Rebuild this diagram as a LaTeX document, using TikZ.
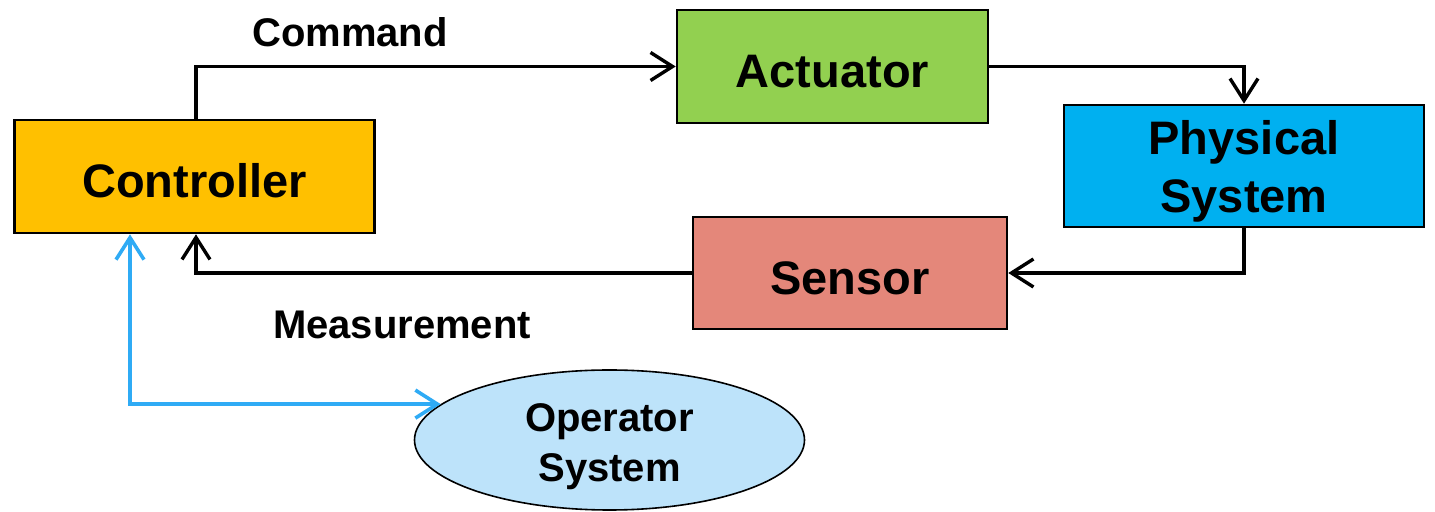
\documentclass[tikz,border=0pt]{standalone}
\usepackage{fontspec}
\setmainfont{Liberation Sans}
\usetikzlibrary{arrows.meta,shapes.geometric}

\definecolor{ctrlfill}{HTML}{FFC000}
\definecolor{actfill}{HTML}{92D050}
\definecolor{physfill}{HTML}{00B0F0}
\definecolor{sensfill}{HTML}{E4877A}
\definecolor{opfill}{HTML}{BDE3FA}
\definecolor{linkblue}{HTML}{2FABF5}

\tikzset{
  block/.style={draw=black, line width=1.3pt, rectangle, inner sep=0pt,
    font=\fontsize{23.5}{29}\selectfont\bfseries, align=center},
  oneline/.style={text height=21.5pt, text depth=0pt},
  flow/.style={draw=black, line width=1.7pt,
    -{Straight Barb[length=11pt,width=14pt,line width=1.7pt]}},
  oplink/.style={draw=linkblue, line width=1.8pt,
    {Straight Barb[length=11pt,width=14pt,line width=1.8pt]}-{Straight Barb[length=11pt,width=14pt,line width=1.8pt]}},
  sig/.style={font=\fontsize{20}{24}\selectfont\bfseries},
}

\begin{document}
\begin{tikzpicture}[x=0.5pt,y=-0.5pt]
  \useasboundingbox (0,0) rectangle (1435,512);

  % blocks of the control loop
  \node[block, oneline, fill=ctrlfill, minimum width=180pt, minimum height=56.5pt]
    (ctrl) at (194.5,176.5) {Controller};
  \node[block, oneline, fill=actfill, minimum width=155.5pt, minimum height=56.5pt]
    (act) at (832.5,66.5) {Actuator};
  \node[block, fill=physfill, minimum width=180pt, minimum height=61pt]
    (phys) at (1244,166) {\rule{0pt}{22pt}Physical\\System};
  \node[block, oneline, fill=sensfill, minimum width=157pt, minimum height=56pt]
    (sens) at (850,273) {Sensor};

  % operator system and its label
  \node[ellipse, draw=black, line width=0.8pt, fill=opfill,
    minimum width=195pt, minimum height=70pt, inner sep=0pt]
    (op) at (609.5,440) {};
  \node[align=center, font=\fontsize{20}{25}\selectfont\bfseries]
    (optext) at (609.5,447) {Operator\\System};

  % signal labels
  \node[sig] (cmd) at (350,32) {Command};
  \node[sig] (meas) at (402,325) {Measurement};

  % loop connectors
  \draw[flow] (196,0 |- ctrl.north) |- (act.west);
  \draw[flow] (act.east) -| (phys.north);
  \draw[flow] (phys.south) |- (sens.east);
  \draw[flow] (sens.west) -| (196,0 |- ctrl.south);

  % operator link
  \coordinate (opc) at (130,0 |- ctrl.south);
  \draw[oplink] (opc) |- (op.168);
\end{tikzpicture}
\end{document}
